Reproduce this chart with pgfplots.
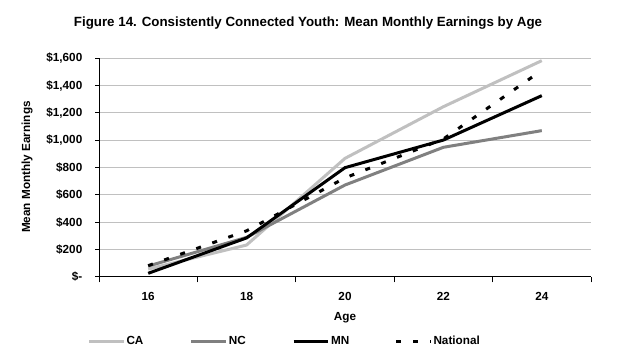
\documentclass[border=0pt]{standalone}
\usepackage{fontspec}
\setmainfont{Liberation Sans}
\usepackage{pgfplots}
\pgfplotsset{compat=1.18}
\definecolor{caC}{HTML}{C0C0C0}
\definecolor{ncC}{HTML}{808080}
\definecolor{gridC}{HTML}{C0C0C0}
\begin{document}
\begin{tikzpicture}[font=\bfseries\fontsize{8.8pt}{10pt}\selectfont]
\useasboundingbox (0,0) rectangle (468pt,270pt);
\node at (231pt,252.5pt) {\fontsize{10pt}{12pt}\selectfont Figure 14. Consistently Connected Youth: Mean Monthly Earnings by Age};
\node[rotate=90] at (20.25pt,144.75pt) {Mean Monthly Earnings};
\node at (258.75pt,31.5pt) {Age};
\begin{axis}[
  at={(74.25pt,62.25pt)}, anchor=south west,
  scale only axis, width=369pt, height=164pt,
  xmin=-0.5, xmax=4.5, ymin=0, ymax=1600,
  axis x line=bottom, axis y line=left,
  axis line style={black, line width=0.75pt, -},
  xtick={0,1,2,3,4}, xticklabels={16,18,20,22,24},
  major x tick style={draw=none},
  minor xtick={-0.5,0.5,1.5,2.5,3.5,4.5},
  minor x tick style={black, line width=0.75pt},
  minor tick length=4pt,
  tick align=outside,
  ytick={0,200,...,1600},
  yticklabels={\$-,\$200,\$400,\$600,\$800,{\$1,000},{\$1,200},{\$1,400},{\$1,600}},
  major y tick style={black, line width=0.75pt},
  major tick length=3pt,
  ymajorgrids, grid style={gridC, line width=0.75pt},
  xticklabel style={yshift=-5pt},
  yticklabel style={xshift=-6pt},
  legend columns=4,
  legend style={at={(rel axis cs:-0.032,-0.295)}, anchor=west, draw=none, fill=none,
    nodes={inner xsep=1pt},
    /tikz/every even column/.append style={column sep=0pt}},
  legend image code/.code={\draw[#1] (0pt,0pt) -- (26pt,0pt);},
  legend cell align=left,
]
\addplot[caC, line width=2.25pt] coordinates {(0,58) (1,234) (2,868) (3,1246) (4,1583)};
\addlegendentry{\makebox[46.5pt][l]{CA}}
\addplot[ncC, line width=2.25pt] coordinates {(0,80) (1,290) (2,673) (3,949) (4,1071)};
\addlegendentry{\makebox[46.5pt][l]{NC}}
\addplot[black, line width=2.25pt] coordinates {(0,27) (1,286) (2,800) (3,1002) (4,1327)};
\addlegendentry{\makebox[46.5pt][l]{MN}}
\addplot[black, line width=2.25pt, dash pattern=on 3.75pt off 9pt] coordinates {(0,83) (1,338) (2,725) (3,1010) (4,1512)};
\addlegendentry{National}
\end{axis}
\end{tikzpicture}
\end{document}
